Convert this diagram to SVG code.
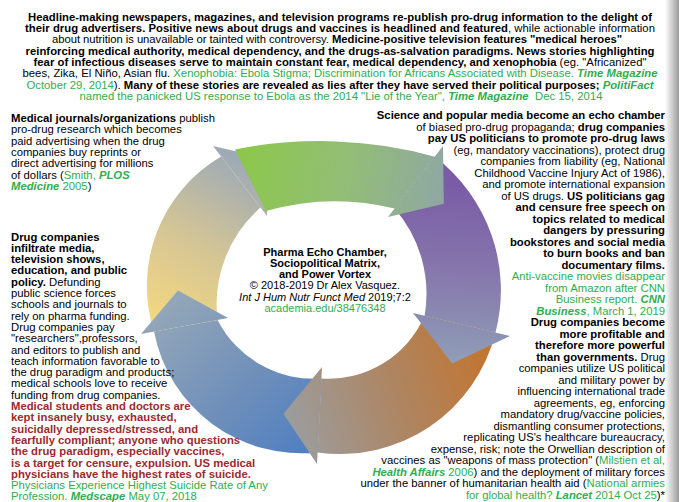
<svg xmlns="http://www.w3.org/2000/svg" width="679" height="502" viewBox="0 0 679 502">
<defs>
<style>
.t{font-family:"Liberation Sans",Arial,sans-serif;font-size:11.3px;fill:#000}
.c{font-size:11px}
.m{text-anchor:middle}
.e{text-anchor:end}
.b{font-weight:bold}
.g{fill:#2fae4e}
.gi{fill:#2fae4e;font-weight:bold;font-style:italic}
.r{fill:#9c2a2e;font-weight:bold}
.i{font-style:italic}
</style>
<linearGradient id="shadow" x1="0" y1="0" x2="1" y2="0">
<stop offset="0" stop-color="#ffffff"/><stop offset="1" stop-color="#9c9c9c"/>
</linearGradient>
<linearGradient id="gGreen" gradientUnits="userSpaceOnUse" x1="235" y1="165" x2="440" y2="200">
<stop offset="0" stop-color="#8cc84a"/><stop offset="0.55" stop-color="#93bd78"/><stop offset="1" stop-color="#8fa8a2"/>
</linearGradient>
<linearGradient id="gPurple" gradientUnits="userSpaceOnUse" x1="465" y1="185" x2="455" y2="360">
<stop offset="0" stop-color="#7a5ca6"/><stop offset="0.5" stop-color="#8677ac"/><stop offset="1" stop-color="#8f9db6"/>
</linearGradient>
<linearGradient id="gOrange" gradientUnits="userSpaceOnUse" x1="495" y1="350" x2="290" y2="418">
<stop offset="0" stop-color="#c4742c"/><stop offset="0.5" stop-color="#ae8562"/><stop offset="1" stop-color="#9c9c9c"/>
</linearGradient>
<linearGradient id="gBlue" gradientUnits="userSpaceOnUse" x1="330" y1="455" x2="175" y2="300">
<stop offset="0" stop-color="#4a7cc1"/><stop offset="0.5" stop-color="#6f8fba"/><stop offset="1" stop-color="#93a6b8"/>
</linearGradient>
<linearGradient id="gYellow" gradientUnits="userSpaceOnUse" x1="155" y1="330" x2="250" y2="165">
<stop offset="0" stop-color="#f6d97e"/><stop offset="0.5" stop-color="#d4c595"/><stop offset="1" stop-color="#9eaab6"/>
</linearGradient>
</defs>
<rect width="679" height="502" fill="#ffffff"/>
<rect x="665" y="0" width="14" height="502" fill="url(#shadow)"/>

<g id="connectors">
<g id="arrow-purple-body"><path d="M434.8,156.7 A168,168 0 0 1 495.5,332.6 L424.6,315.8 A130,130 0 0 0 394.6,208.5 Z" fill="url(#gPurple)"/></g>
<g id="arrow-orange-body"><path d="M495.5,332.6 A160,160 0 0 1 317.6,452.4 L321.4,378.6 A105,105 0 0 0 424.6,315.8 Z" fill="url(#gOrange)"/></g>
<g id="arrow-blue-body"><path d="M317.6,452.4 A150,150 0 0 1 154,331.6 L217.6,319.9 A108,108 0 0 0 321.4,378.6 Z" fill="url(#gBlue)"/></g>
<g id="arrow-yellow"><path d="M154,331.6 A150,150 0 0 1 221.1,156.5 L260.5,207.6 A128,128 0 0 0 217.6,319.9 Z" fill="url(#gYellow)"/>
<path d="M213,146 L268.5,159 L267,216 Z" fill="url(#gYellow)"/></g>
<g id="arrow-green"><path d="M235,149.5 A250,140 0 0 1 434.8,156.7 L394.6,208.5 A250,250 0 0 0 266,211 Z" fill="url(#gGreen)"/>
<path d="M443,146 L443.8,203.7 L388,217 Z" fill="url(#gGreen)"/></g>
<g id="arrow-purple-head"><path d="M510,336 L452.3,363.4 L413,313 Z" fill="url(#gPurple)"/></g>
<g id="arrow-orange-head"><path d="M317,464 L283.5,413.7 L322,367 Z" fill="url(#gOrange)"/></g>
<g id="arrow-blue-head"><path d="M141,334 L178,290.6 L228,318 Z" fill="url(#gBlue)"/></g>
</g>

<g id="top-text" class="t">
<text x="340" y="20.8" class="m b" textLength="624">Headline-making newspapers, magazines, and television programs re-publish pro-drug information to the delight of</text>
<text x="340" y="32.1" class="m" textLength="630"><tspan class="b">their drug advertisers. Positive news about drugs and vaccines is headlined and featured</tspan>, while actionable information</text>
<text x="337" y="43.4" class="m" textLength="570">about nutrition is unavailable or tainted with controversy. <tspan class="b">Medicine-positive television features "medical heroes"</tspan></text>
<text x="340" y="54.7" class="m b" textLength="629">reinforcing medical authority, medical dependency, and the drugs-as-salvation paradigms. News stories highlighting</text>
<text x="340" y="66" class="m" textLength="613"><tspan class="b">fear of infectious diseases serve to maintain constant fear, medical dependency, and xenophobia</tspan> (eg. "Africanized"</text>
<text x="340" y="77.3" class="m" textLength="635">bees, Zika, El Niño, Asian flu. <tspan class="g">Xenophobia: Ebola Stigma; Discrimination for Africans Associated with Disease. </tspan><tspan class="gi">Time Magazine</tspan></text>
<text x="340" y="88.6" class="m" textLength="627"><tspan class="g">October 29, 2014</tspan>).<tspan class="b"> Many of these stories are revealed as lies after they have served their political purposes; </tspan><tspan class="gi">PolitiFact</tspan></text>
<text x="341" y="99.9" class="m" textLength="523"><tspan class="g">named the panicked US response to Ebola as the 2014 "Lie of the Year", </tspan><tspan class="gi">Time Magazine</tspan><tspan class="g">&#160; Dec 15, 2014</tspan></text>
</g>

<g id="left-journals" class="t">
<text x="11" y="122.1"><tspan class="b">Medical journals/organizations</tspan> publish</text>
<text x="11" y="133.4">pro-drug research which becomes</text>
<text x="11" y="144.7">paid advertising when the drug</text>
<text x="11" y="156">companies buy reprints or</text>
<text x="11" y="167.3">direct advertising for millions</text>
<text x="11" y="178.6">of dollars (<tspan class="g">Smith, </tspan><tspan class="gi">PLOS</tspan></text>
<text x="11" y="189.9"><tspan class="gi">Medicine</tspan><tspan class="g"> 2005</tspan>)</text>
</g>

<g id="left-media" class="t">
<text x="11" y="240.5" class="b">Drug companies</text>
<text x="11" y="251.8" class="b">infiltrate media,</text>
<text x="11" y="263.1" class="b">television shows,</text>
<text x="11" y="274.4" class="b">education, and public</text>
<text x="11" y="285.7"><tspan class="b">policy.</tspan> Defunding</text>
<text x="11" y="297">public science forces</text>
<text x="11" y="308.3">schools and journals to</text>
<text x="11" y="319.6">rely on pharma funding.</text>
<text x="11" y="330.9">Drug companies pay</text>
<text x="11" y="342.2">"researchers",professors,</text>
<text x="11" y="353.5">and editors to publish and</text>
<text x="11" y="364.8">teach information favorable to</text>
<text x="11" y="376.1">the drug paradigm and products;</text>
<text x="11" y="387.4">medical schools love to receive</text>
<text x="11" y="398.7">funding from drug companies.</text>
<text x="11" y="410" class="r">Medical students and doctors are</text>
<text x="11" y="421.3" class="r">kept insanely busy, exhausted,</text>
<text x="11" y="432.6" class="r">suicidally depressed/stressed, and</text>
<text x="11" y="443.9" class="r">fearfully compliant; anyone who questions</text>
<text x="11" y="455.2" class="r">the drug paradigm, especially vaccines,</text>
<text x="11" y="466.5" class="r">is a target for censure, expulsion. US medical</text>
<text x="11" y="477.8" class="r">physicians have the highest rates of suicide.</text>
<text x="11" y="489.1" class="g">Physicians Experience Highest Suicide Rate of Any</text>
<text x="11" y="500.4"><tspan class="g">Profession. </tspan><tspan class="gi">Medscape</tspan><tspan class="g"> May 07, 2018</tspan></text>
</g>

<g id="right-politics" class="t e">
<text x="665" y="119.1" class="b">Science and popular media become an echo chamber</text>
<text x="665" y="130.6">of biased pro-drug propaganda; <tspan class="b">drug companies</tspan></text>
<text x="665" y="142.1" class="b">pay US politicians to promote pro-drug laws</text>
<text x="665" y="153.6">(eg, mandatory vaccinations), protect drug</text>
<text x="665" y="165.1">companies from liability (eg, National</text>
<text x="665" y="176.6">Childhood Vaccine Injury Act of 1986),</text>
<text x="665" y="188.1">and promote international expansion</text>
<text x="665" y="199.6">of US drugs. <tspan class="b">US politicians gag</tspan></text>
<text x="665" y="211.1" class="b">and censure free speech on</text>
<text x="665" y="222.6" class="b">topics related to medical</text>
<text x="665" y="234.1" class="b">dangers by pressuring</text>
<text x="665" y="245.6" class="b">bookstores and social media</text>
<text x="665" y="257.1" class="b">to burn books and ban</text>
<text x="665" y="268.6" class="b">documentary films.</text>
<text x="665" y="280.1" class="g">Anti-vaccine movies disappear</text>
<text x="665" y="291.6" class="g">from Amazon after CNN</text>
<text x="665" y="303.1"><tspan class="g">Business report. </tspan><tspan class="gi">CNN</tspan></text>
<text x="665" y="314.6"><tspan class="gi">Business</tspan><tspan class="g">, March 1, 2019</tspan></text>
<text x="665" y="326.1" class="b">Drug companies become</text>
<text x="665" y="337.6" class="b">more profitable and</text>
<text x="665" y="349.1" class="b">therefore more powerful</text>
<text x="665" y="360.6"><tspan class="b">than governments.</tspan> Drug</text>
<text x="665" y="372.1">companies utilize US political</text>
<text x="665" y="383.6">and military power by</text>
<text x="665" y="395.1">influencing international trade</text>
<text x="665" y="406.6">agreements, eg, enforcing</text>
<text x="665" y="418.1">mandatory drug/vaccine policies,</text>
<text x="665" y="429.6">dismantling consumer protections,</text>
<text x="665" y="441.1">replicating US's healthcare bureaucracy,</text>
<text x="665" y="452.6">expense, risk; note the Orwellian description of</text>
<text x="665" y="464.1">vaccines as "weapons of mass protection" (<tspan class="g">Milstien et al,</tspan></text>
<text x="665" y="475.6"><tspan class="gi">Health Affairs</tspan><tspan class="g"> 2006</tspan>) and the deployment of military forces</text>
<text x="665" y="487.1">under the banner of humanitarian health aid (<tspan class="g">National armies</tspan></text>
<text x="665" y="498.6"><tspan class="g">for global health? </tspan><tspan class="gi">Lancet</tspan><tspan class="g"> 2014 Oct 25</tspan>)*</text>
</g>

<g id="center-title" class="t c m">
<text x="325" y="255.5" class="b">Pharma Echo Chamber,</text>
<text x="325" y="266.8" class="b">Sociopolitical Matrix,</text>
<text x="325" y="278.1" class="b">and Power Vortex</text>
<text x="325" y="289.4">© 2018-2019 Dr Alex Vasquez.</text>
<text x="325" y="300.7"><tspan class="i">Int J Hum Nutr Funct Med</tspan> 2019;7:2</text>
<text x="325" y="312" class="g">academia.edu/38476348</text>
</g>
</svg>
